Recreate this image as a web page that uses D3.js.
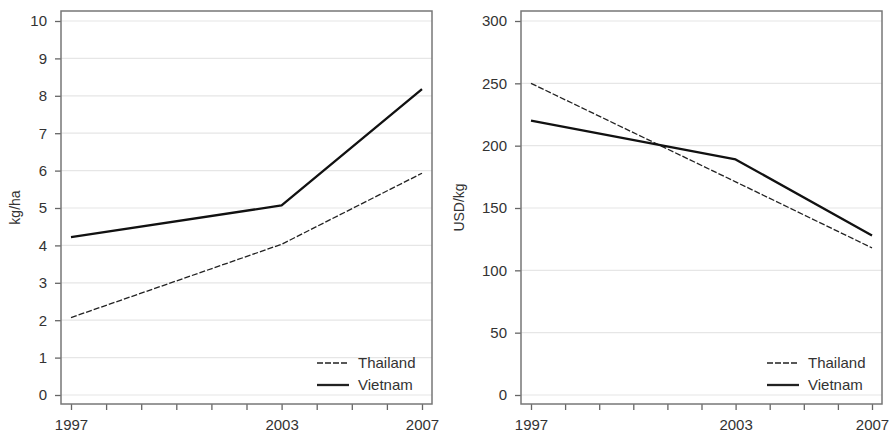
<!DOCTYPE html>
<html>
<head>
<meta charset="utf-8">
<script src="https://cdn.jsdelivr.net/npm/d3@7"></script>
<style>
  body { margin: 0; background: #fff; }
  svg text { font-family: "Liberation Sans", Arial, sans-serif; fill: #333; }
</style>
</head>
<body>
<div id="chart"></div>
<script>
'use strict';

var years = [1997, 2003, 2007];
var yearLabels = [1997, 2003, 2007];
var yieldThailand = [2.07, 4.03, 5.93];
var yieldVietnam = [4.22, 5.07, 8.18];
var priceThailand = [250, 171, 118];
var priceVietnam = [220, 189, 128];
var yieldTicks = [0, 1, 2, 3, 4, 5, 6, 7, 8, 9, 10];
var priceTicks = [0, 50, 100, 150, 200, 250, 300];
var seriesNames = ['Thailand', 'Vietnam'];

var width = 890;
var height = 432;

var svg = d3.select('#chart').append('svg')
	.attr('width', width)
	.attr('height', height);

function drawPanel(opts){

	var frame = {left: opts.left, right: opts.right, top: 11, bottom: 404};

	var x = d3.scaleLinear()
		.domain([1997, 2007])
		.range([frame.left + 10, frame.right - 10]);

	var y = d3.scaleLinear()
		.domain([0, opts.max])
		.range([395, 21]);

	var g = svg.append('g');

	// grid
	g.append('g').selectAll('line')
		.data(opts.ticks)
		.enter().append('line')
			.attr('x1', frame.left)
			.attr('x2', frame.right)
			.attr('y1', function(d){ return y(d); })
			.attr('y2', function(d){ return y(d); })
			.attr('stroke', '#e6e6e6')
			.attr('stroke-width', 1.2);

	// y axis
	var yAxis = g.append('g')
		.attr('transform', 'translate(' + frame.left + ',0)')
		.call(d3.axisLeft(y).tickValues(opts.ticks).tickSize(6).tickPadding(8));

	// x axis, minor ticks every year
	var xAxis = g.append('g')
		.attr('transform', 'translate(0,' + frame.bottom + ')')
		.call(d3.axisBottom(x)
			.tickValues(d3.range(1997, 2008))
			.tickSize(6)
			.tickPadding(9)
			.tickFormat(function(d){ return yearLabels.indexOf(d) >= 0 ? d : ''; }));

	[yAxis, xAxis].forEach(function(a){
		a.select('.domain').remove();
		a.selectAll('line').attr('stroke', '#666').attr('stroke-width', 1.3);
		a.selectAll('text').attr('font-size', 15).style('fill', '#333');
	});

	// frame
	g.append('rect')
		.attr('x', frame.left)
		.attr('y', frame.top)
		.attr('width', frame.right - frame.left)
		.attr('height', frame.bottom - frame.top)
		.attr('fill', 'none')
		.attr('stroke', '#777')
		.attr('stroke-width', 1.5);

	// axis title
	g.append('text')
		.attr('transform', 'translate(' + opts.titleX + ',' + ((frame.top + frame.bottom) / 2) + ') rotate(-90)')
		.attr('text-anchor', 'middle')
		.attr('font-size', 14)
		.text(opts.title);

	var line = d3.line()
		.x(function(d, i){ return x(years[i]); })
		.y(function(d){ return y(d); });

	g.append('path')
		.datum(opts.thailand)
		.attr('d', line)
		.attr('fill', 'none')
		.attr('stroke', '#222')
		.attr('stroke-width', 1.3)
		.attr('stroke-dasharray', '6,2');

	g.append('path')
		.datum(opts.vietnam)
		.attr('d', line)
		.attr('fill', 'none')
		.attr('stroke', '#111')
		.attr('stroke-width', 2.3)
		.attr('stroke-linejoin', 'round');

	// legend
	var legend = g.append('g')
		.attr('transform', 'translate(' + (frame.right - 115) + ',363)');

	seriesNames.forEach(function(name, i){
		legend.append('line')
			.attr('x1', 0)
			.attr('x2', 32)
			.attr('y1', i * 22)
			.attr('y2', i * 22)
			.attr('stroke', '#222')
			.attr('stroke-width', i === 0 ? 1.3 : 2.3)
			.attr('stroke-dasharray', i === 0 ? '6,2' : null);
		legend.append('text')
			.attr('x', 41)
			.attr('y', i * 22 + 5)
			.attr('font-size', 15)
			.text(name);
	});
}

drawPanel({left: 61, right: 432, max: 10, ticks: yieldTicks, title: 'kg/ha', titleX: 20,
	thailand: yieldThailand, vietnam: yieldVietnam});

drawPanel({left: 521, right: 882, max: 300, ticks: priceTicks, title: 'USD/kg', titleX: 464,
	thailand: priceThailand, vietnam: priceVietnam});

</script>
</body>
</html>
